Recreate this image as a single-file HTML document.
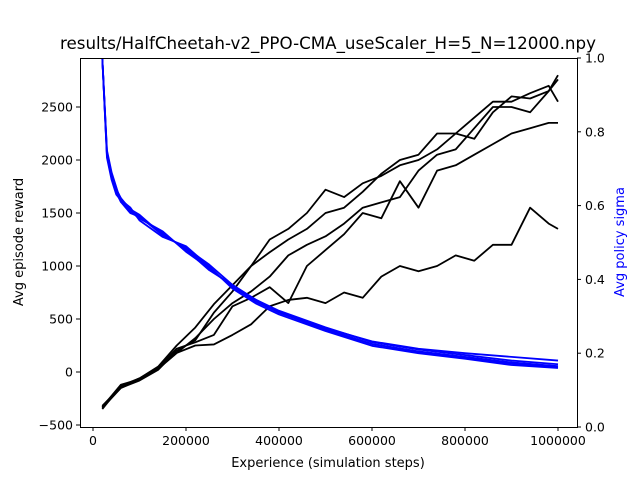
<!DOCTYPE html>
<html><head><meta charset="utf-8"><style>
body{margin:0;background:#fff}
svg{font-family:"DejaVu Sans","Liberation Sans",sans-serif}
</style></head><body>
<svg id="c" width="640" height="480" viewBox="0 0 640 480" xmlns="http://www.w3.org/2000/svg">
<rect width="640" height="480" fill="#fff"/>
<text x="328" y="49" font-size="16.7" text-anchor="middle">results/HalfCheetah-v2_PPO-CMA_useScaler_H=5_N=12000.npy</text>
<text x="328" y="467" font-size="13" text-anchor="middle">Experience (simulation steps)</text>
<text transform="translate(23,242) rotate(-90)" font-size="13" text-anchor="middle">Avg episode reward</text>
<text transform="translate(624,242) rotate(-90)" font-size="13" text-anchor="middle" fill="#0000ff">Avg policy sigma</text>
<g id="plot"></g>
<rect x="80.5" y="58.5" width="497" height="369" fill="none" stroke="#000" stroke-width="1"/>
<g id="axes"></g>
</svg>
<script>
const xs = [20000,60000,100000,140000,180000,220000,260000,300000,340000,380000,420000,460000,500000,540000,580000,620000,660000,700000,740000,780000,820000,860000,900000,940000,980000,1000000];
const reward1 = [-350,-130,-60,50,250,420,640,820,1000,1250,1350,1500,1720,1650,1780,1850,1950,2000,2100,2250,2200,2450,2600,2580,2650,2800];
const reward2 = [-340,-150,-80,20,200,300,560,760,1000,1130,1250,1350,1500,1550,1700,1870,2000,2050,2250,2250,2400,2550,2550,2630,2700,2550];
const reward3 = [-330,-120,-70,30,180,320,500,650,760,900,1100,1200,1280,1400,1550,1600,1650,1900,2050,2100,2300,2500,2500,2450,2650,2760];
const reward4 = [-320,-140,-60,40,220,280,350,620,700,800,650,1000,1150,1300,1500,1450,1800,1550,1900,1950,2050,2150,2250,2300,2350,2350];
const reward5 = [-330,-150,-70,30,180,250,260,350,450,620,680,700,650,750,700,900,1000,950,1000,1100,1050,1200,1200,1550,1400,1350];
const sx = [20000,30000,40000,50000,60000,80000,100000,150000,200000,250000,300000,350000,400000,500000,600000,700000,800000,900000,1000000];
const sigma1 = [1.0,0.74,0.68,0.64,0.62,0.59,0.575,0.52,0.485,0.43,0.38,0.34,0.31,0.265,0.225,0.205,0.19,0.175,0.165];
const sigma2 = [1.0,0.75,0.69,0.65,0.61,0.58,0.57,0.525,0.48,0.425,0.385,0.345,0.315,0.27,0.23,0.21,0.195,0.18,0.17];
const sigma3 = [1.0,0.73,0.67,0.63,0.615,0.595,0.56,0.515,0.49,0.435,0.375,0.335,0.305,0.26,0.22,0.2,0.185,0.168,0.16];
const sigma4 = [1.0,0.745,0.685,0.645,0.62,0.585,0.565,0.53,0.475,0.43,0.38,0.345,0.31,0.268,0.232,0.212,0.2,0.19,0.18];
const sigma5 = [1.0,0.735,0.675,0.635,0.61,0.59,0.57,0.52,0.485,0.44,0.385,0.34,0.312,0.262,0.225,0.203,0.188,0.172,0.162];
const xTicks = [0,200000,400000,600000,800000,1000000];
const yTicks = [-500,0,500,1000,1500,2000,2500];
const rTicks = [0.0,0.2,0.4,0.6,0.8,1.0];

const X = v => 93 + v / 200000 * 93;
const Y = v => 372 - v / 500 * 53;
const R = v => 427 - v * 369;
const NS = "http://www.w3.org/2000/svg";
const plot = document.getElementById('plot');
const axes = document.getElementById('axes');
function mk(tag, attrs, parent){const e=document.createElementNS(NS,tag);for(const k in attrs)e.setAttribute(k,attrs[k]);parent.appendChild(e);return e;}

const clip = mk('clipPath',{id:'cp'},plot);
mk('rect',{x:80,y:58,width:497,height:369},clip);
const g = mk('g',{'clip-path':'url(#cp)'},plot);

[reward1,reward2,reward3,reward4,reward5].forEach((s,i)=>{
  const p = mk('polyline',{points:s.map((v,j)=>X(xs[j])+','+Y(v)).join(' '),fill:'none',stroke:'#000','stroke-width':1.8,'stroke-linejoin':'round'},g);
  
  
});
[sigma1,sigma2,sigma3,sigma4,sigma5].forEach((s,i)=>{
  const p = mk('polyline',{points:s.map((v,j)=>X(sx[j])+','+R(v)).join(' '),fill:'none',stroke:'#0000ff','stroke-width':1.8,'stroke-linejoin':'round'},g);
  
  
});

xTicks.forEach(t=>{
  const x = X(t);
  const l = mk('line',{x1:x,x2:x,y1:427,y2:431,stroke:'#000'},axes);
  
  
  const tx = mk('text',{x:x,y:445,'font-size':12.5,'text-anchor':'middle'},axes);
  tx.textContent = String(t);
  
  
});
yTicks.forEach(t=>{
  const y = Y(t);
  const l = mk('line',{x1:76,x2:80,y1:y,y2:y,stroke:'#000'},axes);
  
  
  const tx = mk('text',{x:73,y:y+4.5,'font-size':12.5,'text-anchor':'end'},axes);
  tx.textContent = t < 0 ? '\u2212' + Math.abs(t) : String(t);
  
  
});
rTicks.forEach(t=>{
  const y = R(t);
  const l = mk('line',{x1:577,x2:581,y1:y,y2:y,stroke:'#000'},axes);
  
  
  const tx = mk('text',{x:585,y:y+4.5,'font-size':12.5,'text-anchor':'start'},axes);
  tx.textContent = t.toFixed(1);
  
  
});
</script>
</body></html>
